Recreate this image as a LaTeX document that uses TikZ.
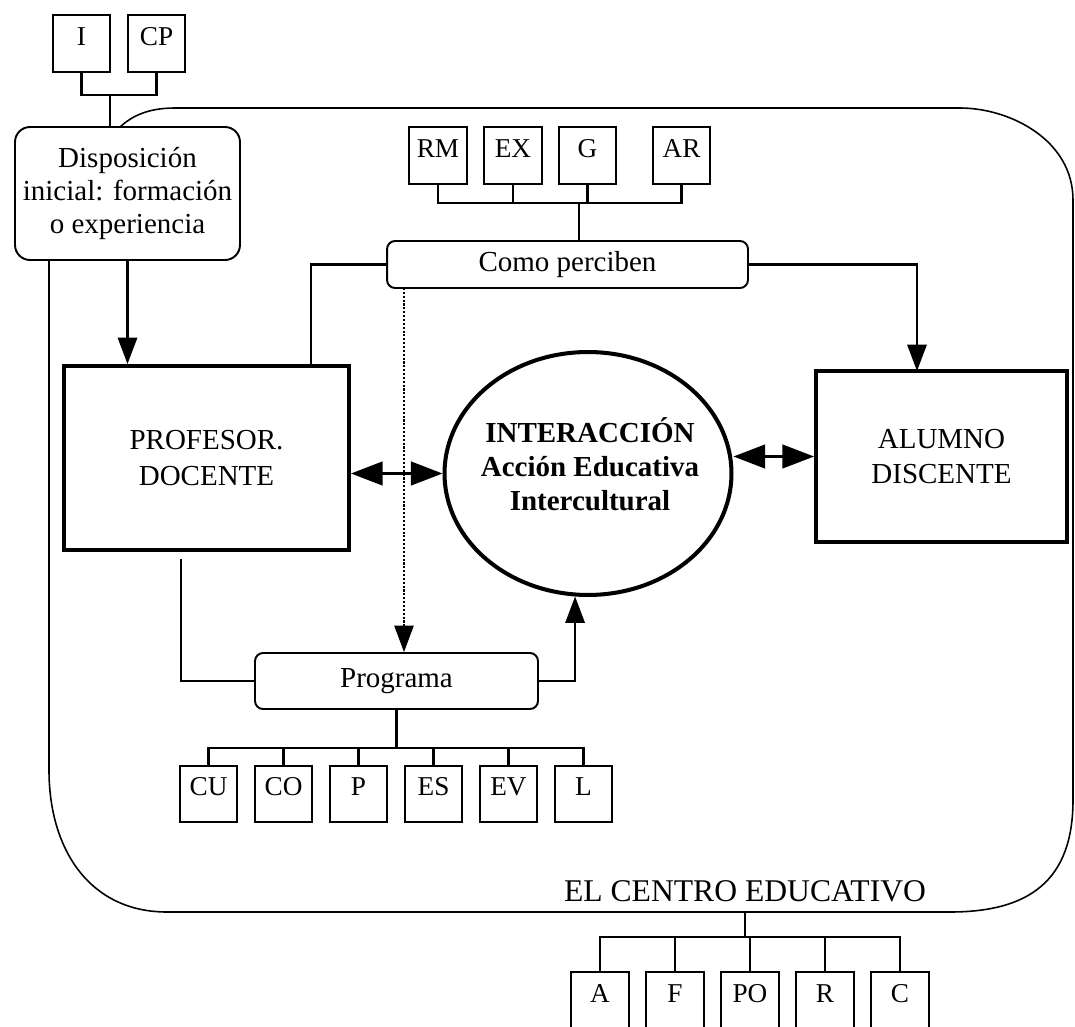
\documentclass[tikz,border=0pt]{standalone}
\usepackage{fontspec}
\setmainfont{Liberation Serif}
\usetikzlibrary{arrows.meta,shapes.geometric}
\tikzset{
	caja/.style={draw, line width=1.1pt, minimum width=1.15cm, minimum height=1.13cm, inner sep=0pt, text depth=8pt, font=\fontsize{15.5}{17}\selectfont},
	gruesa/.style={draw, line width=2.3pt, inner sep=0pt, align=center, font=\fontsize{16.5}{21}\selectfont},
	redonda/.style={draw, line width=1.1pt, inner sep=0pt, align=center, font=\fontsize{16.5}{18.7}\selectfont},
	linea/.style={line width=1.2pt},
	flecha/.style={line width=1.2pt, -{Triangle[length=15pt,width=11pt]}},
	doble/.style={line width=1.2pt, {Triangle[length=18pt,width=13.5pt]}-{Triangle[length=18pt,width=13.5pt]}},
}
\begin{document}
\begin{tikzpicture}[x=0.02cm,y=-0.02cm]
	\useasboundingbox (0,0) rectangle (1075,1027);
	\clip (0,0) rectangle (1075,1027);
	% el centro
	\draw[line width=0.9pt] (49,260) -- (49,770) .. controls (49,850) and (90,912) .. (167,912) -- (950,912) .. controls (1030,912) and (1073,880) .. (1073,800) -- (1073,200) .. controls (1073,140) and (1010,108) .. (960,108) -- (175,108) .. controls (145,108) and (130,118) .. (120,127);
	% nodos principales
	\node[redonda, rounded corners=0.3cm, minimum width=4.5cm, minimum height=2.66cm] (dispo) at (127.5,193.5) {Disposición\\inicial: formación\\o experiencia};
	\node[redonda, rounded corners=0.16cm, minimum width=7.22cm, minimum height=0.94cm] (percib) at (567.5,264.5) {Como perciben};
	\node[redonda, rounded corners=0.16cm, minimum width=5.66cm, minimum height=1.12cm] (prog) at (396.5,681) {Programa};
	\node[gruesa, minimum width=5.7cm, minimum height=3.68cm] (prof) at (206.5,458) {PROFESOR.\\DOCENTE};
	\node[gruesa, minimum width=5.02cm, minimum height=3.42cm, font=\fontsize{16.5}{20}\selectfont] (alum) at (941.5,456.5) {ALUMNO\\DISCENTE};
	\node[gruesa, ellipse, minimum width=5.74cm, minimum height=4.86cm] (inter) at (588,473.5) {};
	\node[align=center, inner sep=0pt, font=\bfseries\fontsize{16.5}{19.5}\selectfont] (intertexto) at (590,464) {INTERACCIÓN\\Acción Educativa\\Intercultural};
	\node[inner xsep=0pt, inner ysep=5.5pt, anchor=south, font=\fontsize{18}{20}\selectfont] (centro) at (745,912) {EL CENTRO EDUCATIVO};
	% cajas pequeñas
	\node[caja] (I) at (81.5,43.5) {I};
	\node[caja] (CP) at (156.5,43.5) {CP};
	\node[caja] (RM) at (438,155.5) {RM};
	\node[caja] (EX) at (513,155.5) {EX};
	\node[caja] (G) at (587.5,155.5) {G};
	\node[caja] (AR) at (681.5,155.5) {AR};
	\node[caja] (CU) at (208.5,794) {CU};
	\node[caja] (CO) at (283.5,794) {CO};
	\node[caja] (P) at (358.5,794) {P};
	\node[caja] (ES) at (433.5,794) {ES};
	\node[caja] (EV) at (508.5,794) {EV};
	\node[caja] (L) at (583.5,794) {L};
	\node[caja] (A) at (600,1000.5) {A};
	\node[caja] (F) at (675,1000.5) {F};
	\node[caja] (PO) at (750,1000.5) {PO};
	\node[caja] (R) at (825,1000.5) {R};
	\node[caja] (C) at (900,1000.5) {C};
	% puntos de union
	\coordinate (ibar) at (110,95);
	\coordinate (pbar) at (579,203);
	\coordinate (gbar) at (396.5,748);
	\coordinate (cbar) at (745,937);
	\coordinate (pk) at (311,366);
	\coordinate (ak) at (917,371);
	\coordinate (pb) at (181,559);
	\coordinate (dk) at (404,288);
	% ramas
	\draw[linea] (I.south) |- (ibar) -| (CP.south);
	\draw[linea] (ibar) -- (ibar |- dispo.north);
	\draw[linea] (RM.south) |- (pbar) -| (AR.south);
	\draw[linea] (EX.south) -- (EX.south |- pbar);
	\draw[linea] (G.south) -- (G.south |- pbar);
	\draw[linea] (pbar) -- (pbar |- percib.north);
	\draw[linea] (CU.north) |- (gbar) -| (L.north);
	\draw[linea] (CO.north) -- (CO.north |- gbar);
	\draw[linea] (P.north) -- (P.north |- gbar);
	\draw[linea] (ES.north) -- (ES.north |- gbar);
	\draw[linea] (EV.north) -- (EV.north |- gbar);
	\draw[linea] (prog.south) -- (gbar);
	\draw[linea] (A.north) |- (cbar) -| (C.north);
	\draw[linea] (F.north) -- (F.north |- cbar);
	\draw[linea] (PO.north) -- (PO.north |- cbar);
	\draw[linea] (R.north) -- (R.north |- cbar);
	\draw[linea] (centro.south) -- (cbar);
	% flechas
	\draw[flecha] (dispo.south) -- (dispo.south |- prof.north);
	\draw[linea] (percib.west) -| (pk);
	\draw[flecha] (percib.east) -| (ak);
	\draw[linea] (prog.west) -| (pb);
	\draw[flecha] (prog.east) -| (inter.-96);
	\draw[flecha, densely dotted, line width=0.8pt] (dk) -- (dk |- prog.north);
	\draw[doble] (prof.east |- inter.west) -- (inter.west);
	\draw[doble] (inter.east |- alum.west) -- (alum.west);
\end{tikzpicture}
\end{document}
